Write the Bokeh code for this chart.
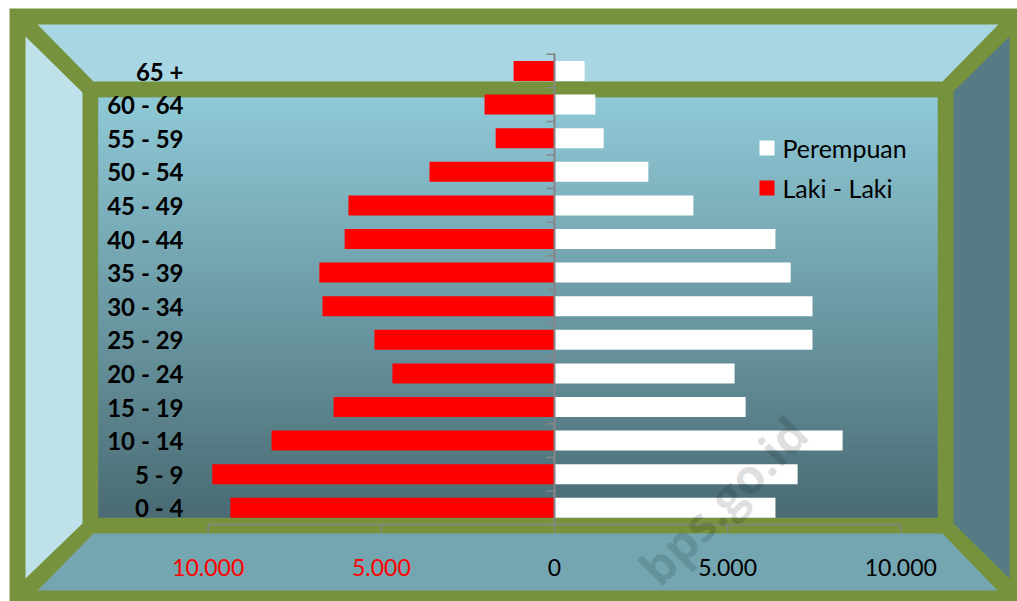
import numpy as np
from bokeh.plotting import figure
from bokeh.models import Range1d, ColumnDataSource
from bokeh.core.properties import value
from bokeh.embed import file_html
from bokeh.resources import INLINE

# ---------------- data ----------------
age_groups = ["0 - 4", "5 - 9", "10 - 14", "15 - 19", "20 - 24", "25 - 29", "30 - 34",
              "35 - 39", "40 - 44", "45 - 49", "50 - 54", "55 - 59", "60 - 64", "65 +"]
laki_laki = [9360, 9880, 8170, 6380, 4680, 5200, 6700, 6790, 6060, 5950, 3610, 1700, 2020, 1180]
perempuan = [6380, 7020, 8320, 5520, 5200, 7450, 7450, 6820, 6380, 4010, 2710, 1420, 1180, 870]
tick_values = [-10000, -5000, 0, 5000, 10000]
tick_labels = ["10.000", "5.000", "0", "5.000", "10.000"]
series_names = ["Perempuan", "Laki - Laki"]

# ---------------- styles ----------------
W, H = 1017, 601
OLIVE = "#76923C"
RED = "#FF0000"
WHITE = "#FFFFFF"
AXIS = "#868686"
FONT = "Lato"

PX_PER_UNIT_X = 0.03463      # pixels per population unit
PX_PER_ROW = 33.6            # pixels per category row
ZERO_PX = 554.0
ROW0_PX = 507.3

x_start = -ZERO_PX / PX_PER_UNIT_X
x_end = (W - ZERO_PX) / PX_PER_UNIT_X
y_end = ROW0_PX / PX_PER_ROW
y_start = (ROW0_PX - H) / PX_PER_ROW

p = figure(width=W, height=H, output_backend="svg", toolbar_location=None,
           x_axis_type=None, y_axis_type=None, min_border=0,
           x_range=Range1d(x_start, x_end), y_range=Range1d(y_start, y_end),
           outline_line_color=None, background_fill_color="white",
           border_fill_color="white")
p.extra_x_ranges = {"px": Range1d(0, W)}
p.extra_y_ranges = {"py": Range1d(H, 0)}

# ---------------- 3D frame decoration (screen pixels) ----------------
p.quad(left=9, right=W, top=8, bottom=H, x_range_name="px", y_range_name="py",
       fill_color=OLIVE, line_color=None)
walls = dict(
    xs=[[37, 998, 942, 93], [25, 82, 82, 25], [93, 942, 997, 37], [953, 1009, 1009, 953]],
    ys=[[24, 24, 81, 81], [36, 92, 523, 578], [533, 533, 590, 590], [91, 36, 578, 523]],
    c=["#A8D6E2", "#BEE1EA", "#74A6B1", "#557B84"])
p.patches("xs", "ys", source=ColumnDataSource(walls), fill_color="c", line_color=None,
          x_range_name="px", y_range_name="py")
# back wall vertical gradient (solid base + overlapping strips)
top_c = np.array([143, 201, 215])
bot_c = np.array([74, 107, 115])
mid = tuple(np.round((top_c + bot_c) / 2).astype(int))
p.quad(left=98, right=937, top=97, bottom=517, fill_color="#%02x%02x%02x" % mid,
       line_color=None, x_range_name="px", y_range_name="py")
gy = np.arange(97, 517)
t = (gy - 97) / (517 - 97)
cols = ["#%02x%02x%02x" % tuple(int(v) for v in np.round(top_c + (bot_c - top_c) * f)) for f in t]
p.quad(left=98, right=937, top=gy, bottom=np.minimum(gy + 2, 517), fill_color=cols,
       line_color=None, x_range_name="px", y_range_name="py")

# ---------------- bars ----------------
idx = np.arange(len(age_groups))
src = ColumnDataSource(dict(y=idx, male=-np.array(laki_laki), female=np.array(perempuan),
                            label=age_groups))
p.hbar(y="y", left="male", right=0, height=0.595, source=src, fill_color=RED, line_color=None)
p.hbar(y="y", left=0, right="female", height=0.595, source=src, fill_color=WHITE, line_color=None)

# ---------------- axes ----------------
y_bottom = -0.5
y_top = len(age_groups) - 0.5
p.segment(x0=[0], y0=[y_bottom], x1=[0], y1=[y_top + 0.02], line_color=AXIS, line_width=2)
bounds = np.arange(len(age_groups) + 1) - 0.5
p.segment(x0=[-8 / PX_PER_UNIT_X] * len(bounds), y0=bounds, x1=[0] * len(bounds), y1=bounds,
          line_color=AXIS, line_width=1.5)
p.segment(x0=[tick_values[0]], y0=[y_bottom], x1=[tick_values[-1]], y1=[y_bottom],
          line_color=AXIS, line_width=1.5)
p.segment(x0=tick_values, y0=[y_bottom] * 5, x1=tick_values,
          y1=[y_bottom - 9 / PX_PER_ROW] * 5, line_color=AXIS, line_width=1.5)

tick_colors = [RED if v < 0 else "#000000" for v in tick_values]
tsrc = ColumnDataSource(dict(x=tick_values, y=[y_bottom - 43 / PX_PER_ROW] * 5,
                             text=tick_labels, c=tick_colors))
p.text(x="x", y="y", text="text", source=tsrc, text_color="c", text_align="center",
       text_baseline="middle", text_font=value(FONT), text_font_size="23px")

# category labels
lsrc = ColumnDataSource(dict(x=[183] * len(age_groups), y=idx, text=age_groups))
p.text(x="x", y="y", text="text", source=lsrc, x_range_name="px", text_align="right",
       text_baseline="middle", text_font=value(FONT), text_font_style="bold",
       text_font_size="24px", text_color="#000000")

# ---------------- legend ----------------
leg = ColumnDataSource(dict(x=[766.5, 766.5], y=[147.5, 187.5], c=[WHITE, RED],
                            tx=[782, 782], text=series_names))
p.rect(x="x", y="y", width=15, height=15, fill_color="c", line_color=None, source=leg,
       x_range_name="px", y_range_name="py")
p.text(x="tx", y="y", text="text", source=leg, x_range_name="px", y_range_name="py",
       text_align="left", text_baseline="middle", text_font=value(FONT),
       text_font_size="25px", text_color="#000000")

# ---------------- watermark ----------------
p.text(x=[798], y=[424], text=["bps.go.id"], x_range_name="px", y_range_name="py",
       angle=45, angle_units="deg", text_align="right", text_baseline="middle",
       text_font=value("Open Sans"), text_font_style="bold", text_font_size="48px",
       text_color="#000000", text_alpha=0.13)

open("out.html", "w").write(file_html(p, INLINE))
